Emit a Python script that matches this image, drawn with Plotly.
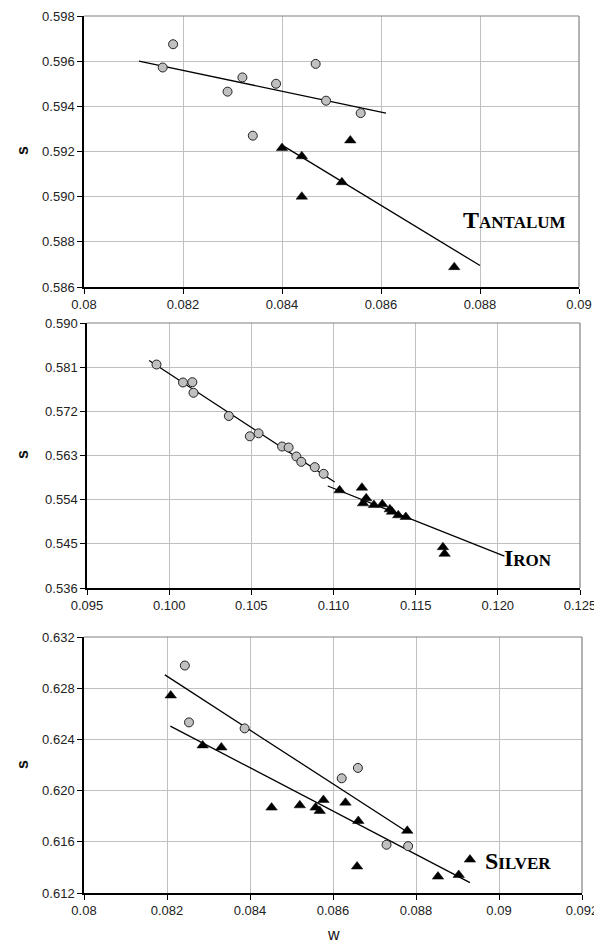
import plotly.graph_objects as go

# ---------------- data ----------------
# Tantalum
ta_circ_w = [0.08159, 0.08180, 0.08290, 0.08320, 0.08341, 0.08388, 0.08468, 0.08489, 0.08559]
ta_circ_s = [0.59572, 0.59675, 0.59465, 0.59528, 0.59270, 0.59500, 0.59588, 0.59425, 0.59370]
ta_tri_w = [0.08400, 0.08440, 0.08440, 0.08521, 0.08538, 0.08748]
ta_tri_s = [0.59215, 0.59179, 0.59000, 0.59064, 0.59249, 0.58688]
ta_fit_circ_w = [0.08111, 0.08610]
ta_fit_circ_s = [0.59600, 0.59370]
ta_fit_tri_w = [0.08400, 0.08800]
ta_fit_tri_s = [0.59228, 0.58695]

# Iron
fe_circ_w = [0.09923, 0.10084, 0.10141, 0.10148, 0.10363, 0.10491, 0.10544, 0.10687,
             0.10727, 0.10774, 0.10804, 0.10886, 0.10940]
fe_circ_s = [0.58154, 0.57788, 0.57794, 0.57578, 0.57105, 0.56691, 0.56752, 0.56483,
             0.56463, 0.56280, 0.56171, 0.56063, 0.55927]
fe_tri_w = [0.11037, 0.11173, 0.11199, 0.11180, 0.11246, 0.11297, 0.11343, 0.11356,
            0.11394, 0.11440, 0.11666, 0.11676]
fe_tri_s = [0.55590, 0.55644, 0.55427, 0.55325, 0.55291, 0.55305, 0.55203, 0.55155,
            0.55081, 0.55047, 0.54432, 0.54296]
fe_fit_circ_w = [0.09878, 0.11007]
fe_fit_circ_s = [0.58236, 0.55760]
fe_fit_tri_w = [0.10965, 0.12040]
fe_fit_tri_s = [0.55678, 0.54249]

# Silver
ag_circ_w = [0.08243, 0.08253, 0.08387, 0.08621, 0.08660, 0.08729, 0.08781]
ag_circ_s = [0.62977, 0.62533, 0.62486, 0.62096, 0.62177, 0.61577, 0.61566]
ag_tri_w = [0.08209, 0.08286, 0.08331, 0.08452, 0.08520, 0.08558, 0.08568, 0.08577,
            0.08630, 0.08661, 0.08658, 0.08779, 0.08853, 0.08903, 0.08930]
ag_tri_s = [0.62743, 0.62353, 0.62337, 0.61867, 0.61885, 0.61867, 0.61841, 0.61927,
            0.61906, 0.61763, 0.61407, 0.61686, 0.61328, 0.61341, 0.61461]
ag_fit_circ_w = [0.08195, 0.08779]
ag_fit_circ_s = [0.62904, 0.61676]
ag_fit_tri_w = [0.08208, 0.08930]
ag_fit_tri_s = [0.62504, 0.61281]

# axis ticks
ta_xticks = [0.08, 0.082, 0.084, 0.086, 0.088, 0.09]
ta_xtext = ["0.08", "0.082", "0.084", "0.086", "0.088", "0.09"]
ta_yticks = [0.586, 0.588, 0.590, 0.592, 0.594, 0.596, 0.598]
fe_xticks = [0.095, 0.100, 0.105, 0.110, 0.115, 0.120, 0.125]
fe_yticks = [0.536, 0.545, 0.554, 0.563, 0.572, 0.581, 0.590]
ag_xticks = [0.08, 0.082, 0.084, 0.086, 0.088, 0.09, 0.092]
ag_xtext = ["0.08", "0.082", "0.084", "0.086", "0.088", "0.09", "0.092"]
ag_yticks = [0.612, 0.616, 0.620, 0.624, 0.628, 0.632]

# page body has an 8px margin; figure is sized to fill the rest of the window
OFF = 8
W, H = 602 - OFF, 944 - OFF

fig = go.Figure()

circ_marker = dict(symbol="circle", size=9, color="#c0c0c0", line=dict(color="#222222", width=1))
tri_marker = dict(symbol="triangle-up", size=10, color="#000000", line=dict(color="#000000", width=0.5))
fit_line = dict(color="#000000", width=1.3)

panels = [
    ("x", "y", ta_circ_w, ta_circ_s, ta_tri_w, ta_tri_s,
     ta_fit_circ_w, ta_fit_circ_s, ta_fit_tri_w, ta_fit_tri_s),
    ("x2", "y2", fe_circ_w, fe_circ_s, fe_tri_w, fe_tri_s,
     fe_fit_circ_w, fe_fit_circ_s, fe_fit_tri_w, fe_fit_tri_s),
    ("x3", "y3", ag_circ_w, ag_circ_s, ag_tri_w, ag_tri_s,
     ag_fit_circ_w, ag_fit_circ_s, ag_fit_tri_w, ag_fit_tri_s),
]
for xa, ya, cw, cs, tw, ts, fcw, fcs, ftw, fts in panels:
    fig.add_trace(go.Scatter(x=fcw, y=fcs, mode="lines", line=fit_line, xaxis=xa, yaxis=ya, showlegend=False))
    fig.add_trace(go.Scatter(x=ftw, y=fts, mode="lines", line=fit_line, xaxis=xa, yaxis=ya, showlegend=False))
    fig.add_trace(go.Scatter(x=cw, y=cs, mode="markers", marker=circ_marker, xaxis=xa, yaxis=ya, showlegend=False))
    fig.add_trace(go.Scatter(x=tw, y=ts, mode="markers", marker=tri_marker, xaxis=xa, yaxis=ya, showlegend=False))

def px_dom_x(a, b):
    return [(a - OFF) / W, (b - OFF) / W]

def px_dom_y(top, bot):
    return [1 - (bot - OFF) / H, 1 - (top - OFF) / H]

def px_x(a):
    return (a - OFF) / W

def px_y(a):
    return 1 - (a - OFF) / H

tickfont = dict(family="Liberation Sans, Arial, sans-serif", size=13, color="#222222")
common = dict(showgrid=True, gridcolor="#c0c0c0", gridwidth=1, zeroline=False,
              showline=True, linecolor="#000000", linewidth=1.5, ticks="outside",
              ticklen=5, tickcolor="#000000", tickfont=tickfont, automargin=False,
              ticklabeloverflow="allow")

fig.update_layout(
    width=W, height=H,
    margin=dict(l=0, r=0, t=0, b=0),
    paper_bgcolor="white", plot_bgcolor="white",
    xaxis=dict(domain=px_dom_x(84, 579), range=[0.08, 0.09], tickvals=ta_xticks, ticktext=ta_xtext, anchor="y", **common),
    yaxis=dict(domain=px_dom_y(16, 287), range=[0.586, 0.598], tickvals=ta_yticks, tickformat=".3f", anchor="x", **common),
    xaxis2=dict(domain=px_dom_x(87, 580), range=[0.095, 0.125], tickvals=fe_xticks, tickformat=".3f", anchor="y2", **common),
    yaxis2=dict(domain=px_dom_y(323, 588), range=[0.536, 0.590], tickvals=fe_yticks, tickformat=".3f", anchor="x2", **common),
    xaxis3=dict(domain=px_dom_x(84, 582), range=[0.08, 0.092], tickvals=ag_xticks, ticktext=ag_xtext, anchor="y3", **common),
    yaxis3=dict(domain=px_dom_y(637, 893), range=[0.612, 0.632], tickvals=ag_yticks, tickformat=".3f", anchor="x3", **common),
)

# grey frame on top/right
for xr, yr in [("x", "y"), ("x2", "y2"), ("x3", "y3")]:
    fig.add_shape(type="line", xref=f"{xr} domain", yref=f"{yr} domain", x0=0, x1=1, y0=1, y1=1,
                  line=dict(color="#808080", width=1.2), layer="above")
    fig.add_shape(type="line", xref=f"{xr} domain", yref=f"{yr} domain", x0=1, x1=1, y0=0, y1=1,
                  line=dict(color="#808080", width=1.2), layer="above")

label_font = dict(family="Liberation Sans, Arial, sans-serif", size=16, color="#111111")
for ycen in [151, 455, 765]:
    fig.add_annotation(text="<b>s</b>", xref="paper", yref="paper", x=px_x(22), y=px_y(ycen),
                       showarrow=False, textangle=-90, font=label_font, xanchor="center", yanchor="middle")
fig.add_annotation(text="w", xref="paper", yref="paper", x=px_x(333), y=px_y(934),
                   showarrow=False, font=dict(family="Liberation Sans, Arial, sans-serif", size=16, color="#111111"),
                   xanchor="center", yanchor="middle")

def smallcaps(first, rest):
    return f"<b>{first}<span style='font-size:17px'>{rest}</span></b>"

name_font = dict(family="Liberation Serif, Times New Roman, serif", size=24, color="#000000")
fig.add_annotation(text=smallcaps("T", "ANTALUM"), x=0.08762, y=0.58895, xref="x", yref="y",
                   showarrow=False, font=name_font, xanchor="left", yanchor="middle")
fig.add_annotation(text=smallcaps("I", "RON"), x=0.12028, y=0.5422, xref="x2", yref="y2",
                   showarrow=False, font=name_font, xanchor="left", yanchor="middle")
fig.add_annotation(text=smallcaps("S", "ILVER"), x=0.08962, y=0.6145, xref="x3", yref="y3",
                   showarrow=False, font=name_font, xanchor="left", yanchor="middle")

fig.write_html("out.html")
